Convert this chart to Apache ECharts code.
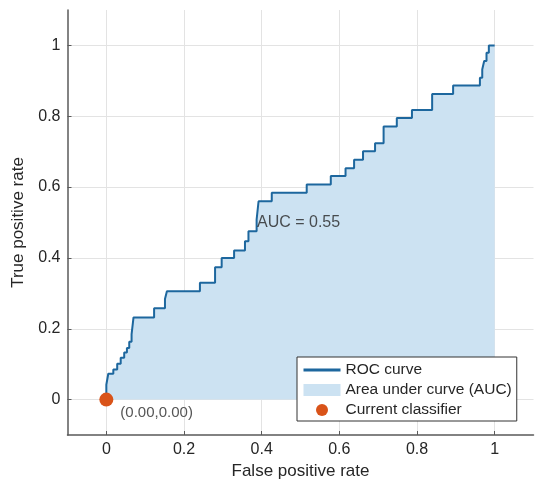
<!DOCTYPE html>
<html>
<head>
<meta charset="utf-8">
<script src="https://cdn.jsdelivr.net/npm/echarts@6/dist/echarts.min.js"></script>
<style>
  html, body { margin: 0; padding: 0; background: #fff; }
  #app { width: 538px; height: 482px; }
</style>
</head>
<body>
<div id="app"></div>
<script>
// ROC curve vertices
var fprValues = [0, 0, 0.005, 0.018, 0.018, 0.028, 0.028, 0.037, 0.037, 0.046, 0.046, 0.053, 0.053,
  0.059, 0.059, 0.065, 0.065, 0.070, 0.070, 0.123, 0.123, 0.151, 0.151, 0.156, 0.156, 0.241, 0.241,
  0.280, 0.280, 0.297, 0.297, 0.329, 0.329, 0.357, 0.357, 0.366, 0.366, 0.387, 0.387, 0.392, 0.392,
  0.426, 0.426, 0.516, 0.516, 0.578, 0.578, 0.616, 0.616, 0.638, 0.638, 0.661, 0.661, 0.692, 0.692,
  0.714, 0.714, 0.748, 0.748, 0.787, 0.787, 0.839, 0.839, 0.893, 0.893, 0.962, 0.962, 0.968, 0.968,
  0.973, 0.973, 0.979, 0.979, 0.985, 0.985, 1.0];
var tprValues = [0, 0.042, 0.073, 0.073, 0.085, 0.085, 0.101, 0.101, 0.118, 0.118, 0.133, 0.133, 0.146,
  0.146, 0.163, 0.163, 0.184, 0.184, 0.232, 0.232, 0.258, 0.258, 0.284, 0.284, 0.306, 0.306, 0.330,
  0.330, 0.374, 0.374, 0.400, 0.400, 0.421, 0.421, 0.447, 0.447, 0.475, 0.475, 0.508, 0.508, 0.560,
  0.560, 0.584, 0.584, 0.607, 0.607, 0.631, 0.631, 0.653, 0.653, 0.677, 0.677, 0.701, 0.701, 0.724,
  0.724, 0.771, 0.771, 0.795, 0.795, 0.818, 0.818, 0.863, 0.863, 0.887, 0.887, 0.909, 0.909, 0.932,
  0.932, 0.956, 0.956, 0.979, 0.979, 1.0, 1.0];
var classifierPoint = [0, 0];
var aucValue = 0.55;
var tickValues = [0, 0.2, 0.4, 0.6, 0.8, 1];
var seriesNames = ['ROC curve', 'Area under curve (AUC)', 'Current classifier'];

var rocData = fprValues.map(function (f, i) { return [f, tprValues[i]]; });

var lineColor = '#1d679e';
var areaColor = '#cce2f2';
var dotColor = '#d95319';
var textColor = '#262626';
var fontFamily = '"Liberation Sans", Arial, Helvetica, sans-serif';

var axisCommon = {
  type: 'value',
  min: -0.1,
  max: 1.1,
  nameLocation: 'middle',
  nameTextStyle: { fontSize: 17, color: textColor, fontFamily: fontFamily },
  axisLine: { show: true, onZero: false, lineStyle: { color: '#5a5a5a', width: 1.5 } },
  axisTick: { show: true, inside: true, length: 4, customValues: tickValues,
    lineStyle: { color: '#5a5a5a', width: 1 } },
  axisLabel: { customValues: tickValues, fontSize: 16, color: textColor, fontFamily: fontFamily, margin: 7 },
  splitLine: { show: true, lineStyle: { color: '#e3e3e3', width: 1 } }
};

var chart = echarts.init(document.getElementById('app'));
chart.setOption({
  animation: false,
  grid: { left: 67.5, right: 4.5, top: 10, bottom: 47, outerBoundsMode: 'none' },
  xAxis: Object.assign({}, axisCommon, { name: 'False positive rate', nameGap: 19 }),
  yAxis: Object.assign({}, axisCommon, { name: 'True positive rate', nameGap: 41 }),
  legend: {
    orient: 'vertical',
    left: 297,
    top: 357,
    padding: [5, 5, 3, 5],
    itemGap: 4,
    itemWidth: 37,
    itemHeight: 12,
    selectedMode: false,
    backgroundColor: '#fff',
    borderColor: '#333',
    borderWidth: 1,
    textStyle: { fontSize: 15.5, color: textColor, fontFamily: fontFamily },
    data: [
      { name: seriesNames[0],
        itemStyle: { color: 'rgba(0,0,0,0)', borderColor: 'rgba(0,0,0,0)', borderWidth: 0 },
        lineStyle: { color: lineColor, width: 3 } },
      { name: seriesNames[1], icon: 'rect', itemStyle: { color: areaColor } },
      { name: seriesNames[2], icon: 'circle', itemStyle: { color: dotColor, opacity: 1 } }
    ]
  },
  series: [
    {
      name: seriesNames[1],
      type: 'line',
      data: rocData,
      symbol: 'none',
      silent: true,
      itemStyle: { color: areaColor },
      lineStyle: { width: 0 },
      areaStyle: { color: areaColor, opacity: 1 },
      z: 1
    },
    {
      name: seriesNames[0],
      type: 'line',
      data: rocData,
      symbol: 'none',
      silent: true,
      itemStyle: { color: lineColor },
      lineStyle: { color: lineColor, width: 2 },
      z: 2
    },
    {
      name: seriesNames[2],
      type: 'scatter',
      data: [classifierPoint],
      symbolSize: 14,
      itemStyle: { color: dotColor, opacity: 1 },
      label: {
        show: true,
        position: 'right',
        offset: [2, 13],
        fontSize: 15,
        color: '#555',
        fontFamily: fontFamily,
        formatter: function (p) {
          return '(' + p.value[0].toFixed(2) + ',' + p.value[1].toFixed(2) + ')';
        }
      },
      z: 4
    },
    {
      name: 'aucText',
      type: 'scatter',
      data: [[0.388, 0.5]],
      symbolSize: 0,
      silent: true,
      itemStyle: { color: 'rgba(0,0,0,0)' },
      label: {
        show: true,
        position: 'right',
        distance: 0,
        fontSize: 16,
        color: textColor,
        fontFamily: fontFamily,
        formatter: 'AUC = ' + aucValue.toFixed(2)
      },
      z: 3
    }
  ]
});
</script>
</body>
</html>
